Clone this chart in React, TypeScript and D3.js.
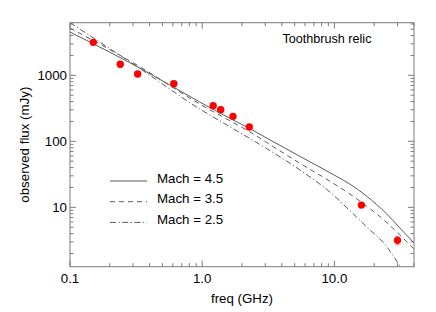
import React from "react";
import * as d3 from "d3";

const W = 436;
const H = 312;

// observed data (GHz, mJy)
const obsFreq = [0.15, 0.24, 0.325, 0.61, 1.21, 1.38, 1.71, 2.27, 16.0, 30.0];
const obsFlux = [3160, 1470, 1046, 747, 347, 301, 239, 165, 10.8, 3.16];
const obsErr = [250, 130, 80, 60, 25, 20, 18, 12, 0.6, 0.45];

// model curves
const m45Freq = [0.1, 0.337, 0.958, 1.7, 2.28, 3.05, 5.5, 9.8, 13.1, 17.5, 24.9, 31.3, 40];
const m45Flux = [4530, 1290, 394, 212, 157, 113, 58.9, 31.4, 22.5, 14.8, 7.91, 4.86, 2.88];
const m35Freq = [0.1, 0.337, 0.958, 1.7, 2.28, 3.05, 5.5, 9.8, 13.1, 17.5, 24.9, 31.3, 40];
const m35Flux = [5210, 1350, 367, 194, 140, 96.9, 46.4, 23.1, 15.9, 10.46, 5.89, 3.8, 2.33];
const m25Freq = [0.1, 0.337, 0.958, 1.7, 3.05, 5.5, 9.8, 13.1, 17.5, 24.9, 29.9, 33.0];
const m25Flux = [6270, 1272, 309, 157, 78.3, 36.7, 15.4, 8.9, 5.08, 2.53, 1.49, 1.08];

const curves = [
  { label: "Mach = 4.5", freq: m45Freq, flux: m45Flux, dash: "" },
  { label: "Mach = 3.5", freq: m35Freq, flux: m35Flux, dash: "5,4" },
  { label: "Mach = 2.5", freq: m25Freq, flux: m25Flux, dash: "6,2.5,1.2,2.5" },
];

const xMajor = [0.1, 1, 10];
const xMajorLabels = ["0.1", "1.0", "10.0"];
const yMajor = [10, 100, 1000];
const yMajorLabels = ["10", "100", "1000"];

const L = 70, R = 414, T = 22.7, B = 266.7;
const FONT = "'Liberation Sans', Arial, Helvetica, sans-serif";

export default function App() {
  const x = d3.scaleLog().domain([0.1, 40]).range([L, R]);
  const y = d3.scaleLog().domain([1.26, 6270]).range([B, T]);

  const xMinor: number[] = [];
  for (const dec of [0.1, 1, 10]) for (let k = 2; k <= 9; k++) { const v = dec * k; if (v <= 40) xMinor.push(v); }
  const yMinor: number[] = [];
  for (const dec of [1, 10, 100, 1000]) for (let k = 2; k <= 9; k++) { const v = dec * k; if (v >= 1.26 && v <= 6270) yMinor.push(v); }

  const line = (fr: number[], fl: number[]) =>
    d3.line<number>().x((_, i) => x(fr[i])).y((v) => y(v)).curve(d3.curveMonotoneX)(fl) || "";

  const axisColor = "#7a7a7a";
  const major = 6, minor = 3.5;

  return (
    <svg width={W} height={H} style={{ position: "absolute", left: 0, top: 0, background: "#fff" }} fontFamily={FONT}>
      <defs>
        <clipPath id="plotclip"><rect x={L} y={T} width={R - L} height={B - T} /></clipPath>
      </defs>
      {/* curves */}
      <g clipPath="url(#plotclip)">
        {curves.map((c) => (
          <path key={c.label} d={line(c.freq, c.flux)} fill="none" stroke="#5a5a5a" strokeWidth={1} strokeDasharray={c.dash} />
        ))}
      </g>
      {/* frame */}
      <rect x={L} y={T} width={R - L} height={B - T} fill="none" stroke={axisColor} strokeWidth={1} />
      {/* x ticks */}
      {xMajor.map((v) => (
        <g key={"xM" + v}>
          <line x1={x(v)} x2={x(v)} y1={B} y2={B - major} stroke={axisColor} />
          <line x1={x(v)} x2={x(v)} y1={T} y2={T + major} stroke={axisColor} />
        </g>
      ))}
      {xMinor.map((v) => (
        <g key={"xm" + v}>
          <line x1={x(v)} x2={x(v)} y1={B} y2={B - minor} stroke={axisColor} />
          <line x1={x(v)} x2={x(v)} y1={T} y2={T + minor} stroke={axisColor} />
        </g>
      ))}
      {/* y ticks */}
      {yMajor.map((v) => (
        <g key={"yM" + v}>
          <line x1={L} x2={L + major} y1={y(v)} y2={y(v)} stroke={axisColor} />
          <line x1={R} x2={R - major} y1={y(v)} y2={y(v)} stroke={axisColor} />
        </g>
      ))}
      {yMinor.map((v) => (
        <g key={"ym" + v}>
          <line x1={L} x2={L + minor} y1={y(v)} y2={y(v)} stroke={axisColor} />
          <line x1={R} x2={R - minor} y1={y(v)} y2={y(v)} stroke={axisColor} />
        </g>
      ))}
      {/* tick labels */}
      {xMajor.map((v, i) => (
        <text key={"xl" + v} x={x(v)} y={283} fontSize={13.3} textAnchor="middle" fill="#000">{xMajorLabels[i]}</text>
      ))}
      {yMajor.map((v, i) => (
        <text key={"yl" + v} x={L - 3} y={y(v) + 4.7} fontSize={13.3} textAnchor="end" fill="#000">{yMajorLabels[i]}</text>
      ))}
      {/* axis titles */}
      <text x={(L + R) / 2} y={303} fontSize={13.3} textAnchor="middle" fill="#000">freq (GHz)</text>
      <text transform={`translate(28.5,${(T + B) / 2}) rotate(-90)`} fontSize={13.3} textAnchor="middle" fill="#000">observed flux (mJy)</text>
      <text x={327} y={43.3} fontSize={12.6} textAnchor="middle" fill="#000">Toothbrush relic</text>
      {/* legend */}
      {curves.map((c, i) => {
        const ly = 181 + i * 20.7;
        return (
          <g key={"lg" + i}>
            <line x1={110} x2={147} y1={ly} y2={ly} stroke="#5a5a5a" strokeWidth={1} strokeDasharray={c.dash} />
            <text x={157} y={ly + 1.5} fontSize={13.3} fill="#000">{c.label}</text>
          </g>
        );
      })}
      {/* data */}
      {obsFreq.map((f, i) => (
        <g key={"pt" + i}>
          <line x1={x(f)} x2={x(f)} y1={y(obsFlux[i] + obsErr[i])} y2={y(obsFlux[i] - obsErr[i])} stroke="#ff8080" strokeWidth={1} />
          <line x1={x(f) - 2} x2={x(f) + 2} y1={y(obsFlux[i] + obsErr[i])} y2={y(obsFlux[i] + obsErr[i])} stroke="#ff8080" strokeWidth={1} />
          <line x1={x(f) - 2} x2={x(f) + 2} y1={y(obsFlux[i] - obsErr[i])} y2={y(obsFlux[i] - obsErr[i])} stroke="#ff8080" strokeWidth={1} />
          <circle cx={x(f)} cy={y(obsFlux[i])} r={3.7} fill="#ff0000" />
        </g>
      ))}
    </svg>
  );
}
